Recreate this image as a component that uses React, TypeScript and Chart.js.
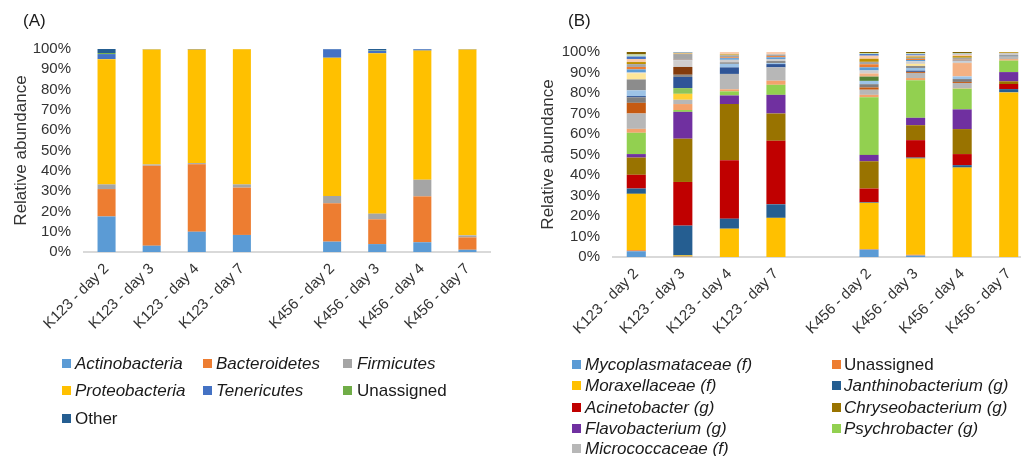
import React, { useEffect, useRef } from "react";
import { Chart, registerables } from "chart.js";
Chart.register(...registerables);

const FONT = '"Liberation Sans", Arial, Helvetica, sans-serif';
Chart.defaults.font.family = FONT;

// Categories (empty slot separates the two groups)
const samples = ["K123 - day 2", "K123 - day 3", "K123 - day 4", "K123 - day 7", "", "K456 - day 2", "K456 - day 3", "K456 - day 4", "K456 - day 7"];

// ---------- Panel A: phylum level (%) ----------
const actinobacteria = [17.5, 3.1, 10.0, 8.4, null, 5.1, 3.9, 4.8, 1.1];
const bacteroidetes = [13.5, 39.4, 33.2, 23.3, null, 18.9, 12.2, 22.6, 6.1];
const firmicutes = [2.3, 0.6, 0.6, 1.6, null, 3.6, 2.8, 8.2, 1.0];
const proteobacteria = [61.7, 56.7, 55.9, 66.6, null, 68.1, 79.0, 63.6, 91.6];
const tenericutes = [2.5, 0.1, 0.3, 0.1, null, 4.2, 1.3, 0.6, 0.2];
const unassignedA = [0.5, 0.05, 0, 0, null, 0.1, 0.3, 0, 0];
const otherA = [2.0, 0.05, 0, 0, null, 0, 0.5, 0.2, 0];

// ---------- Panel B: family / genus level (%) ----------
const mycoplasmataceae = [2.8, 0.1, 0, 0, null, 3.6, 0.7, 0, 0];
const unassignedB = [0.5, 0.2, 0, 0, null, 0.3, 0.4, 0, 0];
const moraxellaceae = [27.5, 0.5, 13.8, 19.1, null, 22.5, 46.9, 43.6, 80.3];
const janthinobacterium = [2.6, 14.5, 4.9, 6.6, null, 0.3, 0.5, 1.2, 1.6];
const acinetobacter = [6.7, 21.3, 28.5, 31.0, null, 6.7, 8.5, 5.4, 2.5];
const chryseobacterium = [8.4, 21.1, 27.4, 13.3, null, 13.3, 7.3, 12.2, 1.3];
const flavobacterium = [1.7, 13.1, 4.2, 9.1, null, 3.1, 3.6, 9.6, 4.5];
const psychrobacter = [10.4, 0.9, 2.0, 4.9, null, 28.1, 18.3, 10.1, 5.6];
const minorOrange = [1.9, 2.9, 1.0, 2.0, null, 1.2, 1.1, 0.2, 0.7];
const micrococcaceae = [7.5, 2.1, 7.5, 6.5, null, 2.5, 2.5, 2.6, 0.8];
const minorDarkOrange = [5.2, 0, 0, 0, null, 1.1, 0.5, 0.5, 0];
const minorGray = [2.7, 0, 0, 0, null, 1.6, 0, 1.4, 0.5];
const minorGold = [0, 2.9, 0, 0, null, 0, 0, 0, 0];
const minorGreen = [0, 2.8, 0, 0, null, 0, 0, 0, 0];
const minorDarkBlue = [0.6, 5.4, 3.2, 1.6, null, 0, 0.6, 0, 0];
const minorLightBlue = [2.8, 0, 1.7, 0.5, null, 1.6, 1.3, 1.3, 0.3];
const minorGray2 = [5.3, 1.1, 0.8, 1.0, null, 0, 1.0, 0, 0.5];
const minorLightYellow = [3.0, 0, 0, 0, null, 0, 1.0, 0, 0];
const minorBrown = [0, 3.8, 0, 0, null, 0, 0, 0, 0];
const minorDarkGreen = [0, 0, 0, 0, null, 2.1, 0, 0, 0];
const minorPeach = [0, 0, 0, 0, null, 1.5, 0, 6.5, 0];
const minorLightGray = [0.4, 3.3, 1.2, 1.0, null, 1.5, 1.3, 0.8, 0.6];
const minorS1 = [1.5, 0.3, 0.8, 0.8, null, 1.5, 0.6, 0.4, 0];
const minorS2 = [1.2, 0.3, 0.4, 0.6, null, 1.5, 0.5, 0.4, 0];
const minorS3 = [1.4, 2.4, 1.0, 0.8, null, 1.2, 0.6, 1.0, 0.3];
const minorS4 = [1.0, 0.2, 0.4, 0, null, 1.5, 0.6, 0.8, 0.3];
const minorS5 = [1.5, 0.3, 1.2, 1.2, null, 1.5, 0.5, 0.8, 0];
const minorS6 = [1.2, 0.2, 0, 0, null, 0.8, 0.6, 0.3, 0];
const minorS7 = [1.0, 0.2, 0, 0, null, 0.5, 0.5, 0.4, 0];
const minorS8 = [1.2, 0.1, 0, 0, null, 0.5, 0.6, 0.5, 0.2];

type Series = { label: string; data: (number | null)[]; color: string; italic?: boolean; legend?: boolean };

const seriesA: Series[] = [
  { label: "Actinobacteria", data: actinobacteria, color: "#5B9BD5", italic: true, legend: true },
  { label: "Bacteroidetes", data: bacteroidetes, color: "#ED7D31", italic: true, legend: true },
  { label: "Firmicutes", data: firmicutes, color: "#A5A5A5", italic: true, legend: true },
  { label: "Proteobacteria", data: proteobacteria, color: "#FFC000", italic: true, legend: true },
  { label: "Tenericutes", data: tenericutes, color: "#4472C4", italic: true, legend: true },
  { label: "Unassigned", data: unassignedA, color: "#70AD47", legend: true },
  { label: "Other", data: otherA, color: "#255E91", legend: true },
];

const seriesB: Series[] = [
  { label: "Mycoplasmataceae (f)", data: mycoplasmataceae, color: "#5B9BD5", italic: true, legend: true },
  { label: "Unassigned", data: unassignedB, color: "#ED7D31", legend: true },
  { label: "Moraxellaceae (f)", data: moraxellaceae, color: "#FFC000", italic: true, legend: true },
  { label: "Janthinobacterium (g)", data: janthinobacterium, color: "#255E91", italic: true, legend: true },
  { label: "Acinetobacter (g)", data: acinetobacter, color: "#C00000", italic: true, legend: true },
  { label: "Chryseobacterium (g)", data: chryseobacterium, color: "#997300", italic: true, legend: true },
  { label: "Flavobacterium (g)", data: flavobacterium, color: "#7030A0", italic: true, legend: true },
  { label: "Psychrobacter (g)", data: psychrobacter, color: "#92D050", italic: true, legend: true },
  { label: "minor 1", data: minorOrange, color: "#F3A26C" },
  { label: "Micrococcaceae (f)", data: micrococcaceae, color: "#B7B7B7", italic: true, legend: true },
  { label: "minor 2", data: minorDarkOrange, color: "#C55A11" },
  { label: "minor 3", data: minorGray, color: "#7F7F7F" },
  { label: "minor 4", data: minorGold, color: "#FFD034" },
  { label: "minor 5", data: minorGreen, color: "#8DC55A" },
  { label: "minor 6", data: minorDarkBlue, color: "#2F5597" },
  { label: "minor 7", data: minorLightBlue, color: "#9DC3E6" },
  { label: "minor 8", data: minorGray2, color: "#8C8C8C" },
  { label: "minor 9", data: minorLightYellow, color: "#FFE699" },
  { label: "minor 10", data: minorBrown, color: "#843C0C" },
  { label: "minor 11", data: minorDarkGreen, color: "#548235" },
  { label: "minor 12", data: minorPeach, color: "#F4B183" },
  { label: "minor 13", data: minorLightGray, color: "#D0CECE" },
  { label: "minor 14", data: minorS1, color: "#5B9BD5" },
  { label: "minor 15", data: minorS2, color: "#ED7D31" },
  { label: "minor 16", data: minorS3, color: "#A5A5A5" },
  { label: "minor 17", data: minorS4, color: "#BF9000" },
  { label: "minor 18", data: minorS5, color: "#F8CBAD" },
  { label: "minor 19", data: minorS6, color: "#4472C4" },
  { label: "minor 20", data: minorS7, color: "#C5E0B4" },
  { label: "minor 21", data: minorS8, color: "#7F6000" },
];

const TEXT = "#333333";

function makeConfig(series: Series[], yWidth: number, xHeight: number, padTop: number, padRight: number, barPct: number): any {
  return {
    type: "bar",
    data: {
      labels: samples,
      datasets: series.map((s) => ({
        label: s.label,
        data: s.data,
        backgroundColor: s.color,
        borderWidth: 0,
        barPercentage: barPct,
        categoryPercentage: 1,
      })),
    },
    options: {
      responsive: false,
      animation: false,
      layout: { padding: { top: padTop, right: padRight, left: 0, bottom: 0 } },
      plugins: { legend: { display: false }, tooltip: { enabled: false } },
      scales: {
        x: {
          stacked: true,
          grid: { display: false, drawTicks: false },
          border: { display: true, color: "#D9D9D9", width: 2 },
          ticks: {
            autoSkip: false,
            minRotation: 45,
            maxRotation: 45,
            padding: 8,
            color: TEXT,
            font: { size: 15, family: FONT },
          },
          afterFit: (sc: any) => {
            sc.height = xHeight;
          },
        },
        y: {
          stacked: true,
          min: 0,
          max: 100,
          grid: { display: false, drawTicks: false },
          border: { display: false },
          ticks: {
            autoSkip: false,
            stepSize: 10,
            padding: 13,
            color: TEXT,
            font: { size: 15, family: FONT },
            callback: (v: any) => v + "%",
          },
          title: {
            display: true,
            text: "Relative abundance",
            color: TEXT,
            font: { size: 17, family: FONT },
            padding: { top: 11, bottom: 0 },
          },
          afterFit: (sc: any) => {
            sc.width = yWidth;
          },
        },
      },
    },
  };
}

function Legend({ items, cols, rows }: { items: Series[]; cols: number[][]; rows: number[] }) {
  return (
    <>
      {items.map((s, i) => {
        const c = i % cols.length;
        const r = Math.floor(i / cols.length);
        const cy = rows[r];
        return (
          <React.Fragment key={s.label + i}>
            <div style={{ position: "absolute", left: cols[c][0], top: cy - 4.5, width: 9, height: 9, background: s.color }} />
            <div
              style={{
                position: "absolute",
                left: cols[c][1],
                top: cy - 8.5,
                height: 17,
                lineHeight: "17px",
                fontSize: 17,
                fontStyle: s.italic ? "italic" : "normal",
                color: "#1a1a1a",
                whiteSpace: "nowrap",
                fontFamily: FONT,
              }}
            >
              {s.label}
            </div>
          </React.Fragment>
        );
      })}
    </>
  );
}

export default function App() {
  const refA = useRef<HTMLCanvasElement>(null);
  const refB = useRef<HTMLCanvasElement>(null);

  useEffect(() => {
    const a = new Chart(refA.current!, makeConfig(seriesA, 84, 204, 49, 20, 0.4));
    const b = new Chart(refB.current!, makeConfig(seriesB, 86, 199, 52, 15, 0.41));
    return () => {
      a.destroy();
      b.destroy();
    };
  }, []);

  const legendA = seriesA.filter((s) => s.legend);
  const legendB = seriesB.filter((s) => s.legend);

  return (
    <div style={{ position: "fixed", left: 0, top: 0, width: 1021, height: 456, overflow: "hidden", background: "#fff", fontFamily: FONT }}>
      <canvas ref={refA} width={510} height={456} style={{ position: "absolute", left: 0, top: 0 }} />
      <canvas ref={refB} width={520} height={456} style={{ position: "absolute", left: 527, top: 0 }} />
      <div style={{ position: "absolute", left: 23, top: 11, fontSize: 17, lineHeight: "20px", color: "#1a1a1a" }}>(A)</div>
      <div style={{ position: "absolute", left: 568, top: 11, fontSize: 17, lineHeight: "20px", color: "#1a1a1a" }}>(B)</div>
      <Legend items={legendA} cols={[[62, 75], [203, 216], [343, 357]]} rows={[363, 390.5, 418]} />
      <Legend items={legendB} cols={[[572, 585], [832, 844]]} rows={[364, 385.5, 407, 428, 448.5]} />
    </div>
  );
}
